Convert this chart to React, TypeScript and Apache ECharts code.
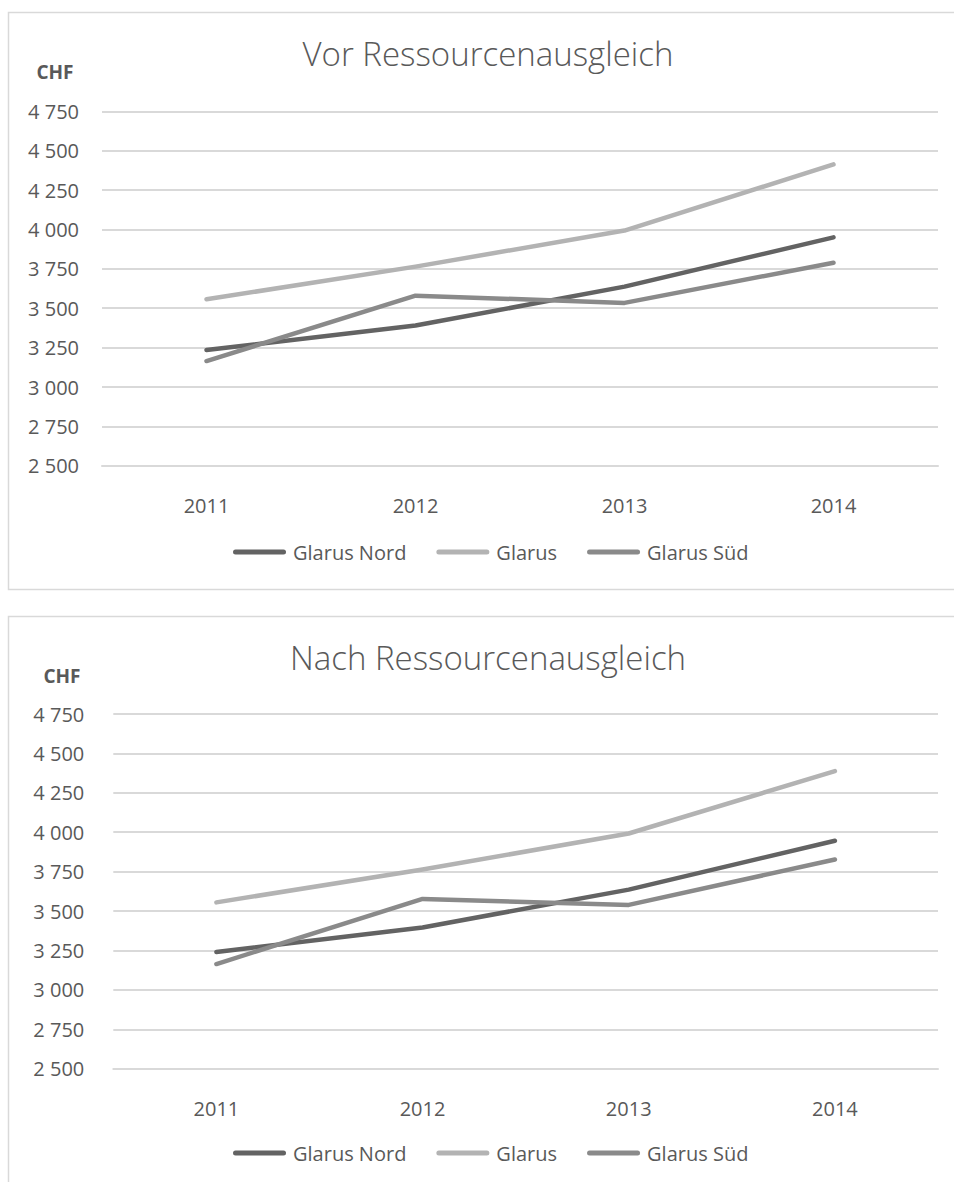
import React, { useEffect, useRef } from "react";
import * as echarts from "echarts";

const years = ["2011", "2012", "2013", "2014"];
const seriesNames = ["Glarus Nord", "Glarus", "Glarus Süd"];
const colors = ["#636363", "#b3b3b3", "#8a8a8a"];

// Vor Ressourcenausgleich
const vorNord = [3235, 3390, 3637, 3950];
const vorGlarus = [3557, 3764, 3993, 4413];
const vorSued = [3165, 3580, 3534, 3789];

// Nach Ressourcenausgleich
const nachNord = [3240, 3396, 3636, 3946];
const nachGlarus = [3555, 3763, 3992, 4388];
const nachSued = [3164, 3577, 3539, 3827];

const yMin = 2500;
const yMax = 4750;
const yStep = 250;

const titles = ["Vor Ressourcenausgleich", "Nach Ressourcenausgleich"];
const unitLabel = "CHF";

const FONT = "'Open Sans', sans-serif";
const TEXT = "#595959";
const GRID = "#d9d9d9";

const fmt = (v: number) => String(v).replace(/\B(?=(\d{3})+(?!\d))/g, " ");

export default function App() {
  const ref = useRef<HTMLDivElement>(null);
  useEffect(() => {
    if (!ref.current) return;
    const chart = echarts.init(ref.current, undefined, { renderer: "svg" });
    const grids = [
      { left: 102, right: 16, top: 111.3, height: 354.5 },
      { left: 113.3, right: 16, top: 714, height: 354.7 },
    ];
    const data = [
      [vorNord, vorGlarus, vorSued],
      [nachNord, nachGlarus, nachSued],
    ];
    const capsule =
      "path://M2.5,0 L50.5,0 A2.5,2.5 0 0 1 50.5,5 L2.5,5 A2.5,2.5 0 0 1 2.5,0 Z";
    const series: any[] = [];
    data.forEach((group, gi) => {
      group.forEach((vals, si) => {
        series.push({
          type: "line",
          name: seriesNames[si],
          xAxisIndex: gi,
          yAxisIndex: gi,
          data: vals,
          symbol: "none",
          lineStyle: { color: colors[si], width: 4.5, cap: "round", join: "round" },
          itemStyle: { color: colors[si] },
        });
      });
    });
    chart.setOption({
      animation: false,
      backgroundColor: "#ffffff",
      title: titles.map((t, i) => ({
        text: t,
        left: 488,
        top: i === 0 ? 37 : 641,
        padding: 0,
        textAlign: "center",
        textStyle: { fontFamily: FONT, fontWeight: 300, fontSize: 33, color: TEXT },
      })),
      legend: [542, 1143].map((top) => ({
        data: seriesNames,
        left: 233,
        top,
        padding: 0,
        itemGap: 30,
        itemWidth: 53,
        itemHeight: 5,
        icon: capsule,
        selectedMode: false,
        textStyle: { fontFamily: FONT, fontSize: 20, color: TEXT, padding: [0, 0, 0, 2] },
      })),
      grid: grids,
      xAxis: grids.map((_, i) => ({
        type: "category",
        gridIndex: i,
        data: years,
        boundaryGap: true,
        axisLine: { show: true, lineStyle: { color: GRID, width: 2 } },
        axisTick: { show: false },
        axisLabel: { fontFamily: FONT, fontSize: 20, color: TEXT, margin: 30 },
      })),
      yAxis: grids.map((_, i) => ({
        type: "value",
        gridIndex: i,
        min: yMin,
        max: yMax,
        interval: yStep,
        axisLine: { show: false },
        axisTick: { show: false },
        splitLine: { lineStyle: { color: GRID, width: 2 } },
        axisLabel: {
          fontFamily: FONT,
          fontSize: 20,
          color: TEXT,
          margin: i === 0 ? 23 : 29,
          formatter: (v: number) => fmt(v),
        },
      })),
      graphic: [
        {
          type: "rect",
          shape: { x: 8.5, y: 12.5, width: 960, height: 577 },
          style: { fill: "none", stroke: GRID, lineWidth: 1.5 },
          silent: true,
        },
        {
          type: "rect",
          shape: { x: 8.5, y: 616.5, width: 960, height: 600 },
          style: { fill: "none", stroke: GRID, lineWidth: 1.5 },
          silent: true,
        },
        {
          type: "text",
          x: 55,
          y: 72,
          style: {
            text: unitLabel,
            fontFamily: FONT,
            fontWeight: "bold",
            fontSize: 19,
            fill: TEXT,
            align: "center",
            verticalAlign: "middle",
          },
        },
        {
          type: "text",
          x: 62,
          y: 676,
          style: {
            text: unitLabel,
            fontFamily: FONT,
            fontWeight: "bold",
            fontSize: 19,
            fill: TEXT,
            align: "center",
            verticalAlign: "middle",
          },
        },
      ],
      series,
    });
    return () => chart.dispose();
  }, []);
  return (
    <div
      ref={ref}
      style={{ position: "absolute", left: 0, top: 0, width: 954, height: 1182 }}
    />
  );
}
